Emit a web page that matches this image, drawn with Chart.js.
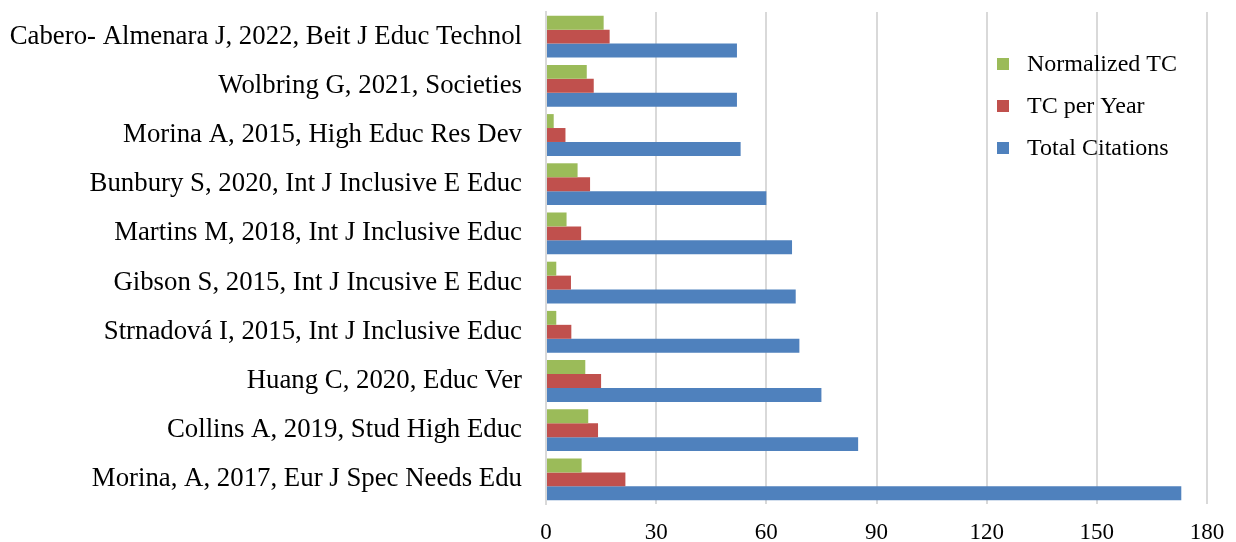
<!DOCTYPE html>
<html>
<head>
<meta charset="utf-8">
<script src="https://cdn.jsdelivr.net/npm/chart.js@4.4.1/dist/chart.umd.min.js"></script>
<style>
  html, body { margin: 0; padding: 0; background: #fff; }
  #wrap { width: 1236px; height: 542px; position: relative; }
</style>
</head>
<body>
<div id="wrap"><canvas id="c" width="1236" height="542"></canvas></div>
<script>
const categories = [
  "Cabero- Almenara J, 2022, Beit J Educ Technol",
  "Wolbring G, 2021, Societies",
  "Morina A, 2015, High Educ Res Dev",
  "Bunbury S, 2020, Int J Inclusive E Educ",
  "Martins M, 2018, Int J Inclusive Educ",
  "Gibson S, 2015, Int J Incusive E Educ",
  "Strnadová I, 2015, Int J Inclusive Educ",
  "Huang C, 2020, Educ Ver",
  "Collins A, 2019, Stud High Educ",
  "Morina, A, 2017, Eur J Spec Needs Edu"
];
const normalizedTC = [15.7, 11.1, 2.1, 8.6, 5.6, 2.8, 2.8, 10.7, 11.5, 9.7];
const tcPerYear = [17.33, 13.0, 5.3, 12.0, 9.57, 6.8, 6.9, 15.0, 14.17, 21.62];
const totalCitations = [52, 52, 53, 60, 67, 68, 69, 75, 85, 173];
const seriesNames = ["Normalized TC", "TC per Year", "Total Citations"];
const xTicks = [0, 30, 60, 90, 120, 150, 180];

const colors = ["#9BBB59", "#C0504D", "#4F81BD"];
const FONT = "'Liberation Serif', 'Times New Roman', serif";

const legendPlugin = {
  id: 'insideLegend',
  afterDraw(chart) {
    const ctx = chart.ctx;
    ctx.save();
    ctx.font = "24px " + FONT;
    ctx.textBaseline = 'middle';
    const ys = [64, 106, 148];
    chart.data.datasets.forEach((ds, i) => {
      ctx.fillStyle = ds.backgroundColor;
      ctx.fillRect(997, ys[i] - 6, 12, 12);
      ctx.fillStyle = '#000';
      ctx.fillText(ds.label, 1027, ys[i] + 1);
    });
    ctx.restore();
  }
};

new Chart(document.getElementById('c'), {
  type: 'bar',
  data: {
    labels: categories,
    datasets: [
      { label: seriesNames[0], data: normalizedTC, backgroundColor: colors[0] },
      { label: seriesNames[1], data: tcPerYear, backgroundColor: colors[1] },
      { label: seriesNames[2], data: totalCitations, backgroundColor: colors[2] }
    ]
  },
  options: {
    indexAxis: 'y',
    responsive: false,
    animation: false,
    devicePixelRatio: 1,
    layout: { padding: { top: 12, right: 29, bottom: 0, left: 0 } },
    datasets: { bar: { categoryPercentage: 0.85, barPercentage: 1.0 } },
    plugins: { legend: { display: false }, tooltip: { enabled: false } },
    scales: {
      x: {
        min: 0, max: 180,
        afterBuildTicks(axis) { axis.ticks = xTicks.map(v => ({ value: v })); },
        grid: { color: '#D9D9D9', lineWidth: 2, drawTicks: false },
        border: { display: false },
        ticks: { color: '#000', font: { family: FONT, size: 23 }, padding: 15 },
        afterFit(axis) { axis.height = 38; axis.paddingLeft = 0; axis.paddingRight = 0; }
      },
      y: {
        grid: { display: false, drawTicks: false },
        border: { display: true, color: '#D9D9D9', width: 2 },
        ticks: { color: '#000', font: { family: FONT, size: 26.8 }, padding: 24, autoSkip: false },
        afterFit(axis) { axis.width = 546; axis.paddingTop = 0; axis.paddingBottom = 0; }
      }
    }
  },
  plugins: [legendPlugin]
});
</script>
</body>
</html>
